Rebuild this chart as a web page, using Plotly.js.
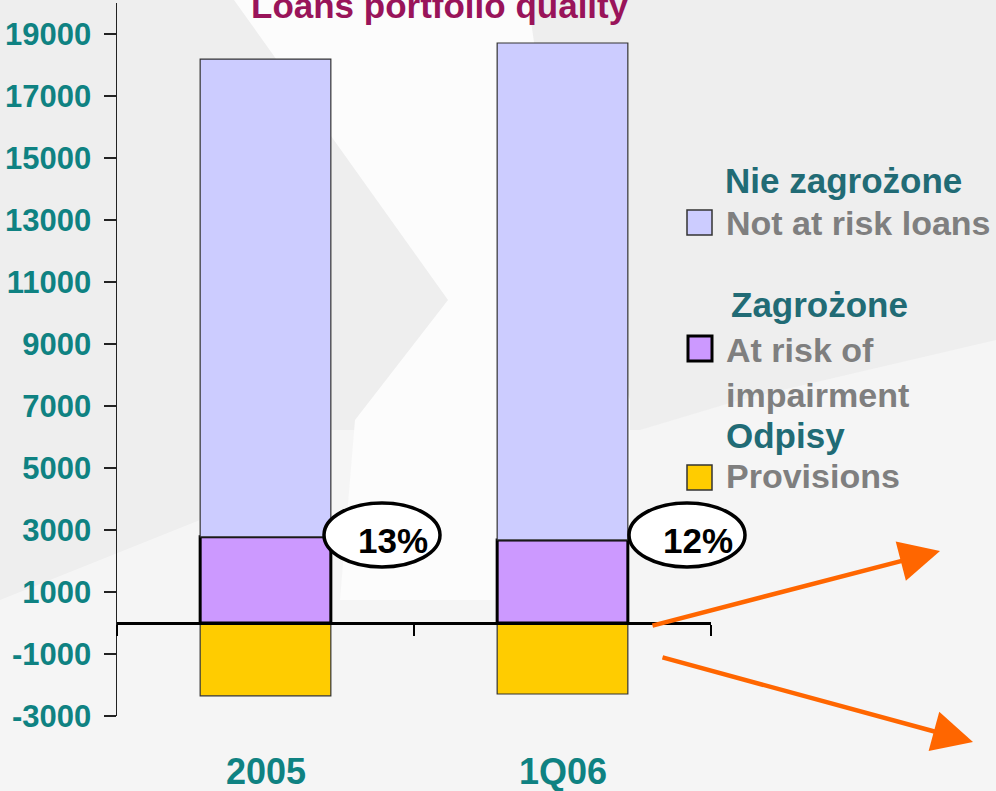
<!DOCTYPE html>
<html>
<head>
<meta charset="utf-8">
<script src="https://cdn.plot.ly/plotly-3.0.1.min.js"></script>
<style>html,body{margin:0;padding:0;background:#eeeeee;}#chart{width:996px;height:791px;}</style>
</head>
<body>
<div id="chart"></div>
<script>
// ---- data ----
const categories = ['2005', '1Q06'];
const notAtRisk = [15410, 16030];
const atRisk = [2780, 2680];
const provisions = [-2350, -2290];
const ratioLabels = ['13%', '12%'];
const yTickVals = [-3000, -1000, 1000, 3000, 5000, 7000, 9000, 11000, 13000, 15000, 17000, 19000];
const titleText = 'Loans portfolio quality';
const legendHeads = ['Nie zagrożone', 'Zagrożone', 'Odpisy'];
const legendLabels = [['Not at risk loans'], ['At risk of', 'impairment'], ['Provisions']];
const yRange = [-3000, 20000];

// ---- layout helpers (page pixels -> paper coords) ----
const W = 996, H = 791, ML = 117, MR = 285, MT = 3, MB = 75;
const PW = W - ML - MR, PH = H - MT - MB;
const fx = px => (px - ML) / PW;
const fy = py => (H - MB - py) / PH;
const FONT = '"Liberation Sans", Arial, sans-serif';
const TEAL = '#0f8282', HEAD = '#216b75', GREY = '#7f7f7f';

const colNot = '#ccccff', colRisk = '#cc99ff', colProv = '#ffcc00';

const traces = [
  {type: 'bar', name: 'At risk of impairment', x: categories, y: atRisk, width: 0.44,
   marker: {color: colRisk, line: {color: '#000', width: 3}}, showlegend: false, hoverinfo: 'y'},
  {type: 'bar', name: 'Not at risk loans', x: categories, y: notAtRisk, width: 0.44,
   marker: {color: colNot, line: {color: '#333', width: 1.2}}, showlegend: false, hoverinfo: 'y'},
  {type: 'bar', name: 'Provisions', x: categories, y: provisions, width: 0.44,
   marker: {color: colProv, line: {color: '#333', width: 1.2}}, showlegend: false, hoverinfo: 'y'}
];

const P = (pts) => 'M ' + pts.map(p => fx(p[0]) + ',' + fy(p[1])).join(' L ') + ' Z';

const shapes = [
  // background tones
  {type: 'path', xref: 'paper', yref: 'paper', layer: 'below', line: {width: 0}, fillcolor: '#f5f5f5',
   path: P([[0, 600], [200, 520], [330, 430], [640, 430], [740, 400], [996, 340], [996, 791], [0, 791]])},
  {type: 'path', xref: 'paper', yref: 'paper', layer: 'below', line: {width: 0}, fillcolor: '#fcfcfc',
   path: P([[234, 0], [528, 0], [545, 120], [575, 250], [630, 400], [630, 600], [340, 600], [355, 420], [448, 300]])},
  // ratio ellipses
  {type: 'circle', xref: 'paper', yref: 'paper', x0: fx(324), x1: fx(440), y0: fy(567), y1: fy(503),
   fillcolor: '#ffffff', line: {color: '#000', width: 3.5}},
  {type: 'circle', xref: 'paper', yref: 'paper', x0: fx(629), x1: fx(745), y0: fy(567), y1: fy(503),
   fillcolor: '#ffffff', line: {color: '#000', width: 3.5}},
  // legend swatches
  {type: 'rect', xref: 'paper', yref: 'paper', x0: fx(687), x1: fx(712), y0: fy(235), y1: fy(210),
   fillcolor: colNot, line: {color: '#333', width: 1.5}},
  {type: 'rect', xref: 'paper', yref: 'paper', x0: fx(688), x1: fx(712), y0: fy(361), y1: fy(336),
   fillcolor: colRisk, line: {color: '#000', width: 3}},
  {type: 'rect', xref: 'paper', yref: 'paper', x0: fx(687), x1: fx(712), y0: fy(490), y1: fy(465),
   fillcolor: colProv, line: {color: '#333', width: 1.5}}
];

const annotations = [];
// title
annotations.push({xref: 'paper', yref: 'paper', x: fx(440), y: fy(5), xanchor: 'center', yanchor: 'middle',
  showarrow: false, text: titleText, font: {family: FONT, size: 35, color: '#99145a', weight: 'bold'}});
// category labels
categories.forEach((c, i) => annotations.push({xref: 'x', yref: 'paper', x: i, y: fy(771), xanchor: 'center', yanchor: 'middle',
  showarrow: false, text: c, font: {family: FONT, size: 36, color: TEAL, weight: 'bold'}}));
// ratio labels
const ratioPos = [[393, 540], [698, 540]];
ratioLabels.forEach((t, i) => annotations.push({xref: 'paper', yref: 'paper', x: fx(ratioPos[i][0]), y: fy(ratioPos[i][1]),
  xanchor: 'center', yanchor: 'middle', showarrow: false, text: t,
  font: {family: FONT, size: 35, color: '#000', weight: 'bold'}}));
// legend text
const headPos = [[723, 180], [729, 304], [724, 435]];
legendHeads.forEach((t, i) => annotations.push({xref: 'paper', yref: 'paper', x: fx(headPos[i][0]), y: fy(headPos[i][1]),
  xanchor: 'left', yanchor: 'middle', showarrow: false, text: t, font: {family: FONT, size: 35, color: HEAD, weight: 'bold'}}));
const labPos = [[[724, 223]], [[724, 350], [724, 395]], [[724, 476]]];
legendLabels.forEach((lines, i) => lines.forEach((t, j) => annotations.push({xref: 'paper', yref: 'paper',
  x: fx(labPos[i][j][0]), y: fy(labPos[i][j][1]), xanchor: 'left', yanchor: 'middle', showarrow: false, text: t,
  font: {family: FONT, size: 34, color: GREY, weight: 'bold'}})));
// orange arrows
annotations.push({xref: 'paper', yref: 'paper', x: fx(940), y: fy(551), ax: -289, ay: 75, text: '', showarrow: true,
  arrowhead: 2, arrowsize: 1.8, arrowwidth: 4.5, arrowcolor: '#ff6600'});
annotations.push({xref: 'paper', yref: 'paper', x: fx(973), y: fy(742), ax: -312, ay: -85, text: '', showarrow: true,
  arrowhead: 2, arrowsize: 1.8, arrowwidth: 4.5, arrowcolor: '#ff6600'});

const layout = {
  width: W, height: H,
  margin: {l: ML, r: MR, t: MT, b: MB, pad: 0},
  paper_bgcolor: '#eeeeee', plot_bgcolor: 'rgba(0,0,0,0)',
  barmode: 'relative', bargap: 0.56,
  showlegend: false,
  xaxis: {type: 'category', range: [-0.5, 1.5], anchor: 'free',
    position: (0 - yRange[0]) / (yRange[1] - yRange[0]),
    showline: true, linecolor: '#000', linewidth: 3, ticks: 'outside', tickson: 'boundaries',
    ticklen: 11, tickwidth: 2, tickcolor: '#000', showticklabels: false, showgrid: false, zeroline: false, fixedrange: true},
  yaxis: {range: yRange, tickvals: yTickVals, ticktext: yTickVals.map(String), showline: true, linecolor: '#222',
    linewidth: 1.5, ticks: 'outside', ticklen: 12, tickwidth: 1.5, tickcolor: '#222', showgrid: false, zeroline: false,
    ticklabelstandoff: 6, tickfont: {family: FONT, size: 31, color: TEAL, weight: 'bold'}, fixedrange: true},
  shapes: shapes,
  annotations: annotations
};

Plotly.newPlot('chart', traces, layout, {displayModeBar: false, staticPlot: true});
</script>
</body>
</html>
